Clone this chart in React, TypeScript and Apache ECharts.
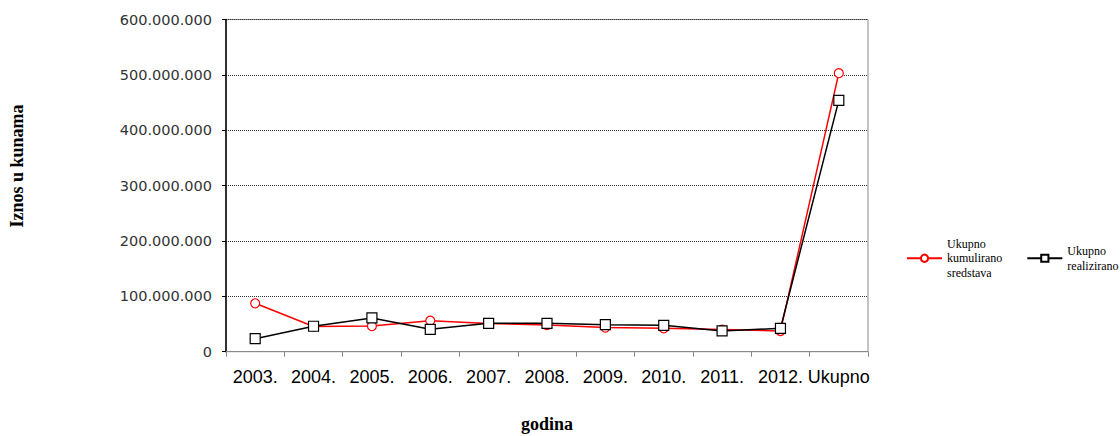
import React, { useEffect, useRef } from "react";
import * as echarts from "echarts";

const categories = ["2003.", "2004.", "2005.", "2006.", "2007.", "2008.", "2009.", "2010.", "2011.", "2012.", "Ukupno"];
const kumulirano = [87400000, 45500000, 46400000, 56000000, 51000000, 48000000, 43500000, 42200000, 40000000, 37400000, 503000000];
const realizirano = [23500000, 46000000, 61000000, 40500000, 51300000, 51300000, 48800000, 47700000, 37500000, 42200000, 454000000];
const seriesNames = ["Ukupno kumulirano sredstava", "Ukupno realizirano"];
const yTicks = { min: 0, max: 600000000, interval: 100000000 };

const fmt = (v: number) => String(v).replace(/\B(?=(\d{3})+(?!\d))/g, ".");

export default function App() {
  const ref = useRef<HTMLDivElement>(null);
  useEffect(() => {
    if (!ref.current) return;
    const chart = echarts.init(ref.current, undefined, { renderer: "svg" });
    const serif = '"Liberation Serif", "Times New Roman", serif';
    chart.setOption({
      animation: false,
      backgroundColor: "#ffffff",
      grid: {
        left: 226,
        right: 252,
        top: 19.5,
        bottom: 84.3,
        show: true,
        borderColor: "#888888",
        borderWidth: 1,
        containLabel: false,
        outerBoundsMode: "none",
      },
      legend: {
        left: 906,
        top: 222,
        width: 240,
        padding: 0,
        itemWidth: 35,
        itemHeight: 9,
        itemGap: 24,
        formatter: (name: string) => name.replace(/ /g, "\n"),
        textStyle: {
          fontFamily: serif,
          fontSize: 12,
          color: "#000",
          lineHeight: 14.5,
        },
        data: [
          { name: seriesNames[0], textStyle: { padding: [29, 0, 0, 0] } },
          { name: seriesNames[1], textStyle: { padding: [14.5, 0, 0, 0] } },
        ],
      },
      graphic: [
        {
          type: "text",
          x: 17,
          y: 166,
          rotation: Math.PI / 2,
          style: {
            text: "Iznos u kunama",
            font: 'bold 18px "Liberation Serif", serif',
            fill: "#000",
            align: "center",
            verticalAlign: "middle",
          },
        },
      ],
      xAxis: {
        type: "category",
        data: categories,
        boundaryGap: true,
        name: "godina",
        nameLocation: "middle",
        nameGap: 63,
        nameTextStyle: { fontFamily: serif, fontWeight: "bold", fontSize: 18, color: "#000" },
        axisLine: { lineStyle: { color: "#888888", width: 1 } },
        axisTick: { show: true, length: 5, alignWithLabel: false, lineStyle: { color: "#888888" } },
        axisLabel: {
          interval: 0,
          margin: 16,
          fontFamily: '"Liberation Sans", Arial, sans-serif',
          fontSize: 18,
          color: "#000",
        },
        splitLine: { show: false },
      },
      yAxis: {
        type: "value",
        min: yTicks.min,
        max: yTicks.max,
        interval: yTicks.interval,
        axisLine: { show: true, lineStyle: { color: "#000", width: 1.5 } },
        axisTick: { show: true, length: 4, lineStyle: { color: "#000" } },
        axisLabel: {
          margin: 14,
          fontFamily: '"DejaVu Sans", Verdana, sans-serif',
          fontSize: 14.5,
          color: "#333",
          formatter: (v: number) => fmt(v),
        },
        splitLine: { show: true, lineStyle: { color: "#333", type: [1, 1], width: 1 } },
      },
      series: [
        {
          name: seriesNames[0],
          type: "line",
          data: kumulirano,
          symbol: "circle",
          symbolSize: 9,
          lineStyle: { color: "#ff0000", width: 1.5 },
          itemStyle: { color: "#ffffff", borderColor: "#ff0000", borderWidth: 1.2 },
          color: "#ff0000",
        },
        {
          name: seriesNames[1],
          type: "line",
          data: realizirano,
          symbol: "rect",
          symbolSize: 10,
          lineStyle: { color: "#000000", width: 1.5 },
          itemStyle: { color: "#ffffff", borderColor: "#000000", borderWidth: 1.2 },
          color: "#000000",
        },
      ],
    });
    return () => chart.dispose();
  }, []);
  return (
    <div
      ref={ref}
      style={{ position: "fixed", left: 0, top: 0, width: 1120, height: 436 }}
    />
  );
}
